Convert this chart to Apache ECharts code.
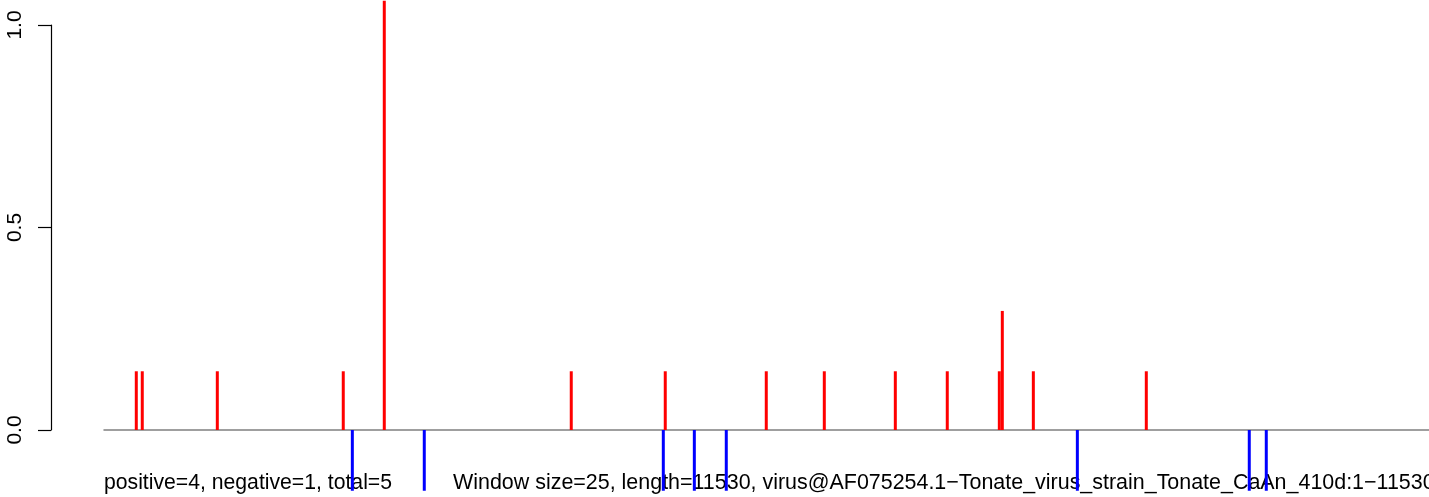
<!DOCTYPE html>
<html>
<head>
<meta charset="utf-8">
<script src="https://cdn.jsdelivr.net/npm/echarts@6/dist/echarts.min.js"></script>
<style>
html,body{margin:0;padding:0;background:#fff;}
#c{width:1429px;height:497px;}
</style>
</head>
<body>
<div id="c"></div>
<script>
// genome length
const seqLength = 11530;
// positive (red) peaks: positions and values
const posPositions = [281, 333, 986, 2082, 2439, 4066, 4884, 5763, 6268, 6886, 7338, 7791, 7817, 8087, 9070];
const posValues    = [0.145, 0.145, 0.145, 0.145, 1.06, 0.145, 0.145, 0.145, 0.145, 0.145, 0.145, 0.145, 0.294, 0.145, 0.145];
// negative (blue) peaks
const negPositions = [2161, 2787, 4867, 5137, 5415, 8470, 9966, 10114];
const negValues    = [-0.15, -0.15, -0.15, -0.15, -0.15, -0.15, -0.15, -0.15];
// y tick values
const yTicks = [0.0, 0.5, 1.0];
const yTickLabels = ['0.0', '0.5', '1.0'];
const footLeft = 'positive=4, negative=1, total=5';
const footRight = 'Window size=25, length=11530, virus@AF075254.1\u2212Tonate_virus_strain_Tonate_CaAn_410d:1\u221211530';

const chart = echarts.init(document.getElementById('c'), null, {renderer: 'canvas'});
const font = '"Liberation Sans", Arial, sans-serif';

chart.setOption({
  animation: false,
  backgroundColor: '#ffffff',
  grid: {left: 104, right: 0, top: 25, height: 405, containLabel: false},
  xAxis: {
    type: 'value', min: 0, max: seqLength,
    axisLine: {show: true, onZero: true, lineStyle: {color: '#808080', width: 1.5}},
    axisTick: {show: false}, axisLabel: {show: false}, splitLine: {show: false}
  },
  yAxis: {
    type: 'value', min: 0, max: 1, interval: 0.5, offset: 53,
    axisLine: {show: true, onZero: false, lineStyle: {color: '#000', width: 1.2}},
    axisTick: {show: true, length: 13, lineStyle: {color: '#000', width: 1.2}},
    axisLabel: {
      show: true, rotate: 90, margin: 25, color: '#000', fontSize: 21, fontFamily: font,
      formatter: function (v) { const i = yTicks.indexOf(v); return i >= 0 ? yTickLabels[i] : ''; }
    },
    splitLine: {show: false}
  },
  graphic: {
    elements: [
      {type: 'text', z: 0, left: 104, top: 473, style: {text: footLeft, fill: '#000', font: '21.2px ' + font}},
      {type: 'text', z: 0, left: 453, top: 473, style: {text: footRight, fill: '#000', font: '21.45px ' + font}}
    ]
  },
  series: [
    {
      type: 'bar', clip: false, barWidth: 3, barGap: '-100%', z: 5,
      itemStyle: {color: '#ff0000'},
      data: posPositions.map((p, i) => [p, posValues[i]])
    },
    {
      type: 'bar', clip: false, barWidth: 3, barGap: '-100%', z: 5,
      itemStyle: {color: '#0000ff'},
      data: negPositions.map((p, i) => [p, negValues[i]])
    }
  ]
});
</script>
</body>
</html>
